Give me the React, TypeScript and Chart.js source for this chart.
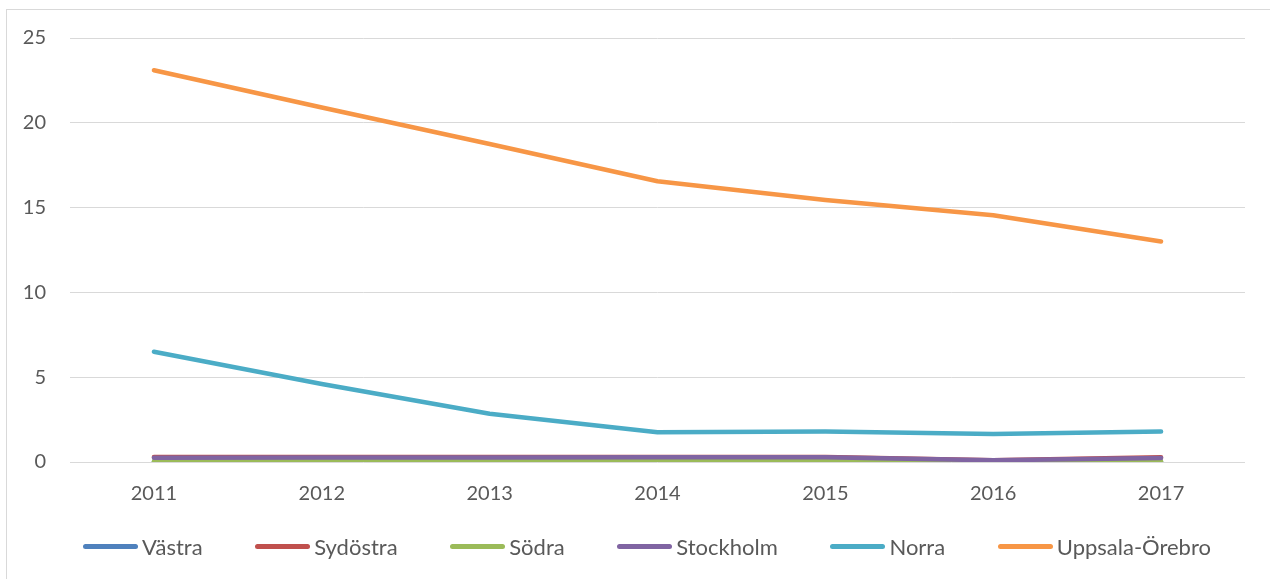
import React, { useEffect, useRef } from "react";
import { Chart, registerables } from "chart.js";

Chart.register(...registerables);

const years = ["2011", "2012", "2013", "2014", "2015", "2016", "2017"];
const seriesNames = ["Västra", "Sydöstra", "Södra", "Stockholm", "Norra", "Uppsala-Örebro"];
const seriesColors = ["#4F81BD", "#C0504D", "#9BBB59", "#8064A2", "#4BACC6", "#F79646"];

const vastra = [0.02, 0.02, 0.02, 0.02, 0.03, 0.02, 0.02];
const sydostra = [0.3, 0.3, 0.3, 0.3, 0.3, 0.1, 0.28];
const sodra = [0.05, 0.05, 0.05, 0.05, 0.07, 0.04, 0.05];
const stockholm = [0.25, 0.27, 0.27, 0.28, 0.28, 0.1, 0.24];
const norra = [6.5, 4.6, 2.85, 1.75, 1.8, 1.65, 1.8];
const uppsalaOrebro = [23.1, 20.9, 18.75, 16.55, 15.45, 14.55, 13.0];

const yTicks = [0, 5, 10, 15, 20, 25];

const allSeries = [vastra, sydostra, sodra, stockholm, norra, uppsalaOrebro];

const FONT = "Lato, 'Open Sans', sans-serif";
const TEXT = "#595959";

export default function App() {
  const ref = useRef<HTMLCanvasElement | null>(null);

  useEffect(() => {
    if (!ref.current) return;
    const chart = new Chart(ref.current, {
      type: "line",
      data: {
        labels: years,
        datasets: allSeries.map((d, i) => ({
          label: seriesNames[i],
          data: d,
          borderColor: seriesColors[i],
          backgroundColor: seriesColors[i],
          borderWidth: 4.5,
          borderCapStyle: "round" as const,
          borderJoinStyle: "round" as const,
          pointRadius: 0,
          pointHoverRadius: 0,
          tension: 0,
          fill: false,
          order: allSeries.length - i,
        })),
      },
      options: {
        responsive: false,
        animation: false,
        devicePixelRatio: 1,
        layout: { padding: { left: 0, right: 25, top: 38, bottom: 0 } },
        plugins: {
          legend: { display: false },
          tooltip: { enabled: false },
        },
        scales: {
          x: {
            offset: true,
            grid: { display: false, drawTicks: false },
            border: { display: false },
            ticks: {
              color: TEXT,
              font: { family: FONT, size: 20 },
              padding: 20,
              maxRotation: 0,
            },
            afterFit: (scale: any) => {
              scale.height = 117;
            },
          },
          y: {
            min: 0,
            max: 25,
            afterBuildTicks: (scale: any) => {
              scale.ticks = yTicks.map((v) => ({ value: v }));
            },
            grid: { color: "#d9d9d9", lineWidth: 1, drawTicks: false },
            border: { display: false },
            ticks: {
              color: TEXT,
              font: { family: FONT, size: 20 },
              padding: 24,
            },
            afterFit: (scale: any) => {
              scale.width = 70;
            },
          },
        },
      },
    });
    return () => chart.destroy();
  }, []);

  return (
    <div style={{ position: "fixed", left: 0, top: 0, width: 1270, height: 579, background: "#fff", overflow: "hidden" }}>
      <div
        style={{
          position: "absolute",
          left: 6,
          top: 9,
          width: 1300,
          height: 600,
          border: "1px solid #d9d9d9",
          boxSizing: "border-box",
        }}
      />
      <canvas ref={ref} width={1270} height={579} style={{ position: "absolute", left: 0, top: 0 }} />
      <div
        style={{
          position: "absolute",
          left: 83,
          width: 1128,
          top: 531,
          height: 30,
          display: "flex",
          justifyContent: "space-between",
          alignItems: "center",
          fontFamily: FONT,
          fontSize: 22,
          color: TEXT,
        }}
      >
        {seriesNames.map((name, i) => (
          <div key={name} style={{ display: "flex", alignItems: "center" }}>
            <span
              style={{
                display: "inline-block",
                width: 55,
                height: 5,
                borderRadius: 3,
                background: seriesColors[i],
                marginRight: 4,
              }}
            />
            <span>{name}</span>
          </div>
        ))}
      </div>
    </div>
  );
}
